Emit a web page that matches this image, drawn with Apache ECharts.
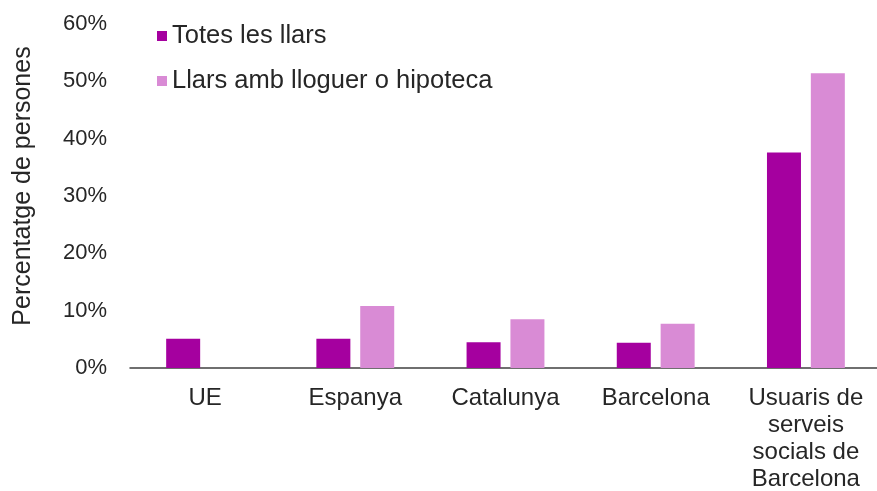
<!DOCTYPE html>
<html lang="ca">
<head>
    <meta charset="UTF-8">
    <title>Percentatge de persones</title>
    <script src="https://cdn.jsdelivr.net/npm/echarts@6/dist/echarts.min.js"></script>
</head>
<body style="margin:0">
<div id="main" style="width: 877px;height: 491px"></div>
<script>
    var categories = ['UE', 'Espanya', 'Catalunya', 'Barcelona', 'Usuaris de\nserveis\nsocials de\nBarcelona'];
    var totesLlars = [5.1, 5.1, 4.5, 4.4, 37.6];
    var llarsLloguer = [null, 10.8, 8.5, 7.7, 51.4];
    var yTicks = [0, 10, 20, 30, 40, 50, 60];

    var txt = '#262626';
    var font = 'Liberation Sans, Arial, sans-serif';

    var myChart = echarts.init(document.getElementById('main'));
    var option = {
        backgroundColor: '#fff',
        textStyle: { fontFamily: font },
        grid: { left: 130, top: 24, width: 751, height: 344, outerBoundsMode: 'none' },
        legend: {
            orient: 'vertical',
            left: 152,
            top: 18,
            itemWidth: 10,
            itemHeight: 10,
            itemGap: 19,
            icon: 'rect',
            textStyle: { color: txt, fontSize: 25.5, fontFamily: font },
            data: ['Totes les llars', 'Llars amb lloguer o hipoteca']
        },
        xAxis: {
            type: 'category',
            data: categories,
            axisTick: { show: false },
            axisLine: { lineStyle: { color: '#404040', width: 1.5 } },
            axisLabel: { color: txt, fontSize: 24, lineHeight: 27, margin: 17, interval: 0 }
        },
        yAxis: {
            type: 'value',
            min: yTicks[0],
            max: yTicks[yTicks.length - 1],
            interval: 10,
            name: 'Percentatge de persones',
            nameLocation: 'middle',
            nameGap: 94,
            nameTextStyle: { color: txt, fontSize: 25, padding: [0, 0, 0, 20] },
            splitLine: { show: false },
            axisLine: { show: false },
            axisLabel: { color: txt, fontSize: 22, margin: 23, formatter: '{value}%' }
        },
        series: [{
            name: 'Totes les llars',
            type: 'bar',
            barWidth: 34,
            barGap: '29%',
            itemStyle: { color: '#a5009f' },
            data: totesLlars
        }, {
            name: 'Llars amb lloguer o hipoteca',
            type: 'bar',
            barWidth: 34,
            itemStyle: { color: '#d98bd5' },
            data: llarsLloguer
        }]
    };
    myChart.setOption(option);
</script>
</body>
</html>
